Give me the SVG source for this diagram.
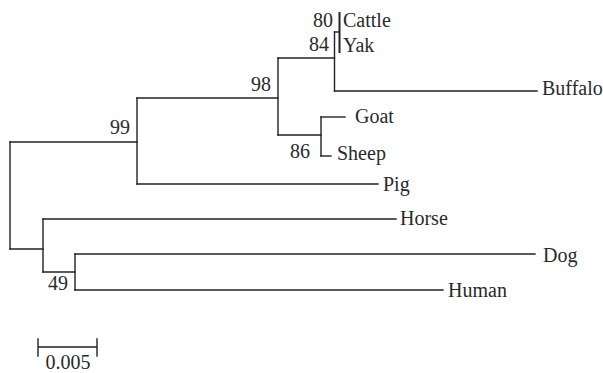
<svg xmlns="http://www.w3.org/2000/svg" width="603" height="373" viewBox="0 0 603 373">
<style>
.e{stroke:#222;stroke-width:1.4;fill:none;stroke-linecap:square}
text{font-family:'Liberation Serif','Times New Roman','DejaVu Serif',serif;font-size:20px;fill:#2a2a2a}
.b{text-anchor:end}
</style>
<rect width="603" height="373" fill="#fff"/>
<g id="connectors" class="e">
<path d="M10,142V249"/>
<path d="M10,142H137"/>
<path d="M10,249H43"/>
<path d="M137,98V184"/>
<path d="M137,98H278"/>
<path d="M137,184H378"/>
<path d="M278,58V135"/>
<path d="M278,58H334.5"/>
<path d="M278,135H321"/>
<path d="M334.5,32V91"/>
<path d="M334.5,32H339"/>
<path d="M334.5,91H537"/>
<path d="M339.5,13V52" stroke-width="2"/>
<path d="M321,117V156"/>
<path d="M321,117H345"/>
<path d="M321,156H331"/>
<path d="M43,219V272"/>
<path d="M43,219H396"/>
<path d="M43,272H75"/>
<path d="M75,254V290"/>
<path d="M75,254H535"/>
<path d="M75,290H443"/>
</g>
<g id="leaves">
<g id="cattle"><text x="343" y="27">Cattle</text></g>
<g id="yak"><text x="343" y="52">Yak</text></g>
<g id="buffalo"><text x="542" y="95">Buffalo</text></g>
<g id="goat"><text x="355" y="123">Goat</text></g>
<g id="sheep"><text x="337" y="160">Sheep</text></g>
<g id="pig"><text x="383" y="191">Pig</text></g>
<g id="horse"><text x="400" y="225">Horse</text></g>
<g id="dog"><text x="543" y="262">Dog</text></g>
<g id="human"><text x="448" y="297">Human</text></g>
</g>
<g id="bootstrap">
<text class="b" x="333" y="27">80</text>
<text class="b" x="329" y="51">84</text>
<text class="b" x="271" y="91">98</text>
<text class="b" x="310" y="158">86</text>
<text class="b" x="130" y="134">99</text>
<text class="b" x="68" y="290">49</text>
</g>
<g id="scale">
<path class="e" d="M38,347H97M38,339V356M97,339V356"/>
<text x="68" y="369" text-anchor="middle">0.005</text>
</g>
</svg>
